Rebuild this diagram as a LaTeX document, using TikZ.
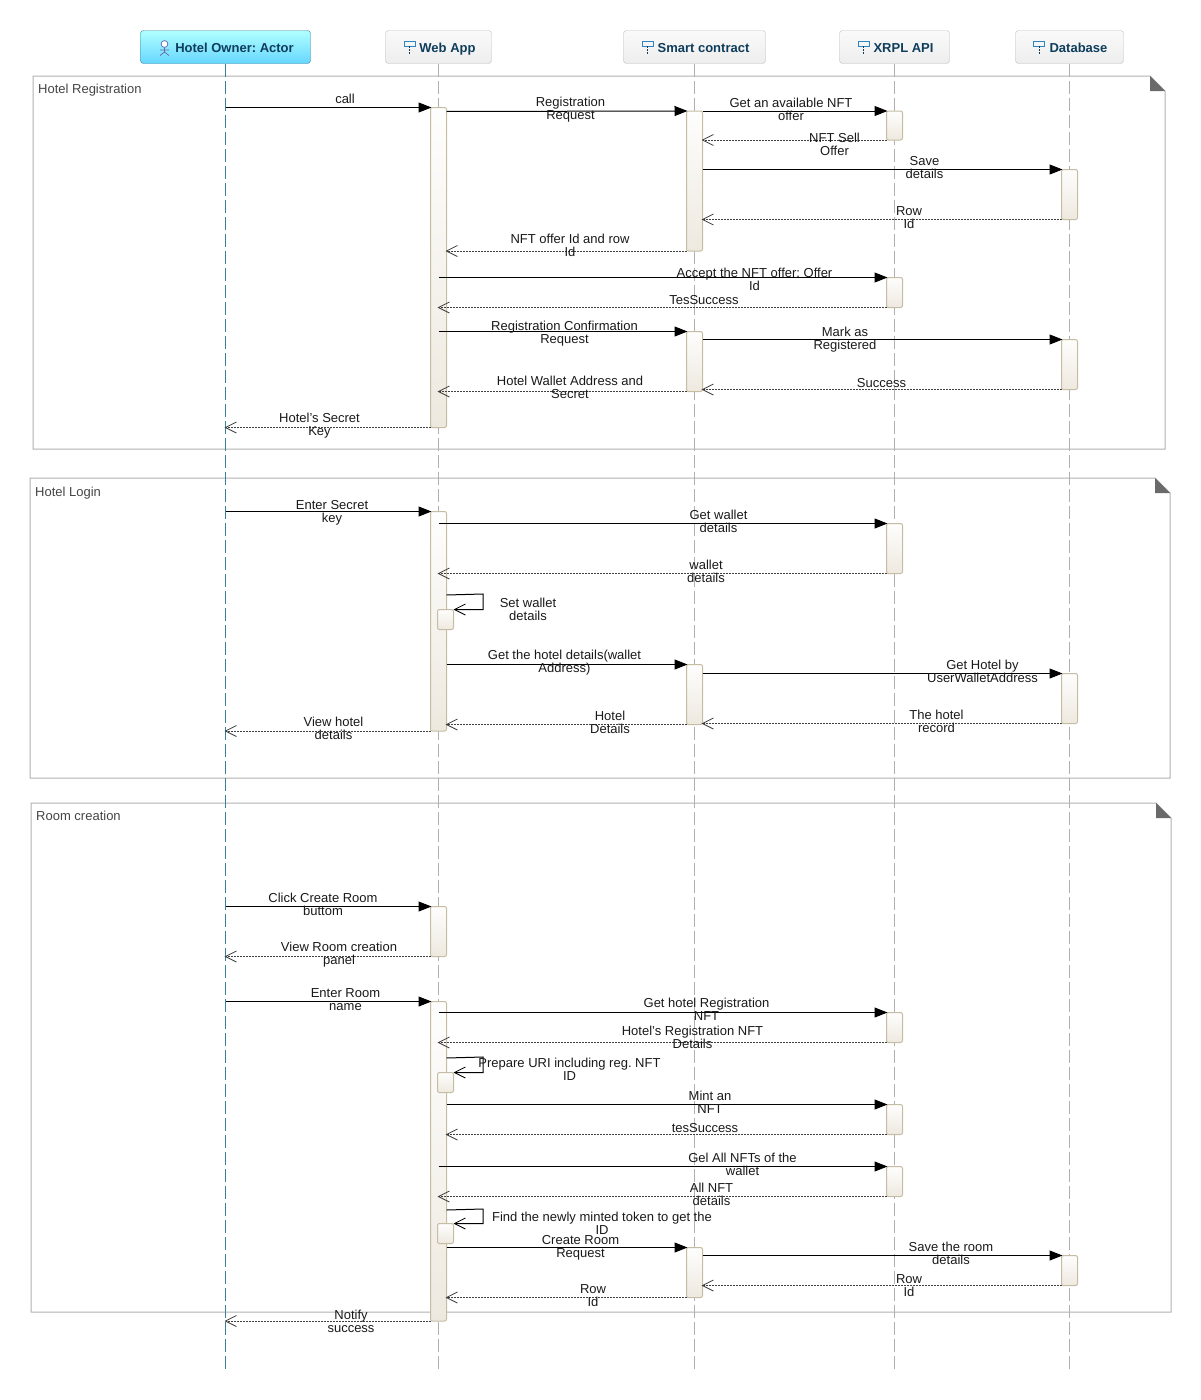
\documentclass[tikz,border=0pt]{standalone}
\usepackage{fontspec}
\setmainfont{Liberation Sans}
\frenchspacing
\usetikzlibrary{arrows.meta}
\definecolor{framegray}{HTML}{B0B0B0}
\definecolor{cornergray}{HTML}{6A6A6A}
\definecolor{titlegray}{HTML}{444444}
\definecolor{barline}{HTML}{C6BCA4}
\definecolor{headblue}{HTML}{0F3D5C}
\definecolor{iconblue}{HTML}{2E86C1}
\definecolor{ownertop}{HTML}{B0FFFF}
\definecolor{ownerbot}{HTML}{66D6FF}
\definecolor{ownerline}{HTML}{3B8196}
\definecolor{barbot}{HTML}{EEE9DF}
\definecolor{personicon}{HTML}{6468A8}
\tikzset{
  seqframe/.style={draw=framegray,line width=1pt},
  frametitle/.style={anchor=west,inner sep=0pt,text height=10pt,text depth=3pt,text=titlegray,font=\fontsize{13}{13}\selectfont},
  lifehead/.style={draw=black!25,rounded corners=3pt,top color=black!2,bottom color=black!7,minimum height=33pt,inner sep=0pt,outer sep=0pt,text height=10pt,text depth=0pt,text=headblue,font=\bfseries\fontsize{13}{13}\selectfont,execute at begin node=\hspace*{18pt}},
  ownerhead/.style={lifehead,draw=ownerline,top color=ownertop,bottom color=ownerbot},
  lifeline/.style={draw=framegray,line width=1pt,dash pattern=on 13pt off 4pt},
  actbar/.style={draw=barline,rounded corners=2pt,line width=1pt,top color=white!98!barline,bottom color=barbot,minimum width=16pt,inner sep=0pt,outer sep=0pt,anchor=north},
  callmsg/.style={draw=black,line width=1pt,shorten >=-1pt,-{Triangle[length=13pt,width=10pt]}},
  backmsg/.style={draw=black!75,line width=.9pt,dash pattern=on 2pt off 1pt,shorten >=-1pt,-{Straight Barb[length=11pt,width=11pt,line width=.8pt]}},
  selfmsg/.style={draw=black,line width=1pt,-{Straight Barb[length=11pt,width=11pt,line width=.8pt]}},
  msglabel/.style={align=center,inner sep=0pt,text=black!90,font=\fontsize{13}{13}\selectfont},
}
\begin{document}
\begin{tikzpicture}[x=1pt,y=-1pt]
\useasboundingbox (0,0) rectangle (1201,1400);
% frames
\foreach \fa/\xl/\yt/\xr/\yb in {fa/33/76/1165/449,fb/30/478/1170/778,fc/31/803/1171/1312}{
  \draw[seqframe] (\xl,\yt) -- (\xr-15,\yt) -- (\xr,\yt+15) -- (\xr,\yb) -- (\xl,\yb) -- cycle;
  \fill[cornergray] (\xr-15,\yt) -- (\xr,\yt+15) -- (\xr-15,\yt+15) -- cycle;
}
\node[frametitle] (fatitle) at (38,89.5) {Hotel Registration};
\node[frametitle] (fbtitle) at (35,492.5) {Hotel Login};
\node[frametitle] (fctitle) at (36,816.5) {Room creation};
% heads
\node[ownerhead,minimum width=170pt] (owner) at (225.5,47) {Hotel Owner: Actor};
\node[lifehead,minimum width=106pt] (webapp) at (438.5,47) {Web App};
\node[lifehead,minimum width=142pt] (smart) at (694.5,47) {Smart contract};
\node[lifehead,minimum width=110pt] (xrpl) at (894.5,47) {XRPL API};
\node[lifehead,minimum width=108pt] (dbase) at (1069.5,47) {Database};
% lifelines
\coordinate (endline) at (0,1370);
\draw[lifeline,draw=ownerline] (owner.south) -- (owner.south |- endline);
\foreach \hd in {webapp,smart,xrpl,dbase}
  \draw[lifeline] (\hd.south) -- (\hd.south |- endline);
% icons
\draw[personicon,line width=.7pt,fill=white] (164.5,44) circle (3.4pt);
\draw[personicon,line width=.7pt] (164.5,47.4) -- (164.5,52) (160,50) -- (169,50) (160,55.5) -- (164.5,52) -- (169,55.5);
\foreach \ix in {409.5,647.5,863.5,1039}{
  \draw[iconblue,line width=1pt] (\ix-5.5,41) rectangle (\ix+5.5,46);
  \draw[headblue,line width=1pt,dash pattern=on 2pt off 1pt] (\ix,46) -- (\ix,54);
}
% activation bars
\node[actbar,minimum height=320pt] (wa) at (438.5,107.5) {};
\node[actbar,minimum height=140pt] (sa) at (694.5,111) {};
\node[actbar,minimum height=29pt] (xa) at (894.5,111) {};
\node[actbar,minimum height=50pt] (da) at (1069.5,169.5) {};
\node[actbar,minimum height=30pt] (xb) at (894.5,277.5) {};
\node[actbar,minimum height=60pt] (sb) at (694.5,331.5) {};
\node[actbar,minimum height=50pt] (db) at (1069.5,339.5) {};
\node[actbar,minimum height=219.5pt] (wb) at (438.5,511.5) {};
\node[actbar,minimum height=50pt] (xc) at (894.5,523.5) {};
\node[actbar,minimum height=20pt] (wself) at (445.5,609.5) {};
\node[actbar,minimum height=60pt] (sc) at (694.5,664.5) {};
\node[actbar,minimum height=50pt] (dc) at (1069.5,673.5) {};
\node[actbar,minimum height=50pt] (wc) at (438.5,906.5) {};
\node[actbar,minimum height=319.5pt] (wd) at (438.5,1001.5) {};
\node[actbar,minimum height=30pt] (xd) at (894.5,1012.5) {};
\node[actbar,minimum height=20pt] (wselfb) at (445.5,1072.5) {};
\node[actbar,minimum height=30pt] (xe) at (894.5,1104.5) {};
\node[actbar,minimum height=30pt] (xf) at (894.5,1166.5) {};
\node[actbar,minimum height=20pt] (wselfc) at (445.5,1223.5) {};
\node[actbar,minimum height=50pt] (sd) at (694.5,1247.5) {};
\node[actbar,minimum height=30pt] (dd) at (1069.5,1255.5) {};
% hotel registration
\draw[callmsg] (owner.south |- 0,107.5) -- (wa.north west) node[msglabel,at={(345,99)}] (ma) {call};
\draw[callmsg] (wa.east |- 0,111.5) -- (sa.north west) node[msglabel,at={(570.5,110)}] (mb) {Registration\\Request};
\draw[callmsg] (sa.east |- 0,111) -- (xa.north west) node[msglabel,at={(791,109)}] (mc) {Get an available NFT\\offer};
\draw[backmsg] (xa.south west) -- (sa.east |- xa.south) node[msglabel,at={(834.5,144)}] (md) {NFT Sell\\Offer};
\draw[callmsg] (sa.east |- da.north) -- (da.north west) node[msglabel,at={(924.5,168)}] (me) {Save\\details};
\draw[backmsg] (da.south west) -- (sa.east |- da.south) node[msglabel,at={(909,218)}] (mf) {Row\\Id};
\draw[backmsg] (sa.south west) -- (wa.east |- sa.south) node[msglabel,at={(570,245)}] (mg) {NFT offer Id and row\\Id};
\draw[callmsg] (wa.north |- xb.north) -- (xb.north west) node[msglabel,at={(754.5,279)}] (mh) {Accept the NFT offer: Offer\\Id};
\draw[backmsg] (xb.south west) -- (wa.north |- xb.south) node[msglabel,at={(704,300)}] (mi) {TesSuccess};
\draw[callmsg] (wa.north |- sb.north) -- (sb.north west) node[msglabel,at={(564.5,333.5)}] (mj) {Registration Confirmation\\Request};
\draw[callmsg] (sb.east |- db.north) -- (db.north west) node[msglabel,at={(845,340)}] (mk) {Mark as\\Registered};
\draw[backmsg] (db.south west) -- (sb.east |- db.south) node[msglabel,at={(881.5,383)}] (ml) {Success};
\draw[backmsg] (sb.south west) -- (wa.north |- sb.south) node[msglabel,at={(570,387)}] (mm) {Hotel Wallet Address and\\Secret};
\draw[backmsg] (wa.south west) -- (owner.south |- wa.south) node[msglabel,at={(319.5,426)}] (mn) {Hotel's Secret\\Key};
% hotel login
\draw[callmsg] (owner.south |- wb.north) -- (wb.north west) node[msglabel,at={(332,513)}] (na) {Enter Secret\\key};
\draw[callmsg] (wb.north |- xc.north) -- (xc.north west) node[msglabel,at={(718.5,521)}] (nb) {Get wallet\\details};
\draw[backmsg] (xc.south west) -- (wb.north |- xc.south) node[msglabel,at={(706,571)}] (nc) {wallet\\details};
\draw[selfmsg] (wb.east |- 0,595) -- (483,594) -- (483,609.5) -- (wself.north east) node[msglabel,at={(528,609)}] (nd) {Set wallet\\details};
\draw[callmsg] (wb.east |- sc.north) -- (sc.north west) node[msglabel,at={(564.5,663)}] (ne) {Get the hotel details(wallet\\Address)};
\draw[callmsg] (sc.east |- dc.north) -- (dc.north west) node[msglabel,at={(982.5,671)}] (nf) {Get Hotel by\\UserWalletAddress};
\draw[backmsg] (dc.south west) -- (sc.east |- dc.south) node[msglabel,at={(936.5,721)}] (ng) {The hotel\\record};
\draw[backmsg] (sc.south west) -- (wb.east |- sc.south) node[msglabel,at={(610,722)}] (nh) {Hotel\\Details};
\draw[backmsg] (wb.south west) -- (owner.south |- wb.south) node[msglabel,at={(333.5,728)}] (ni) {View hotel\\details};
% room creation
\draw[callmsg] (owner.south |- wc.north) -- (wc.north west) node[msglabel,at={(323,904)}] (pa) {Click Create Room\\buttom};
\draw[backmsg] (wc.south west) -- (owner.south |- wc.south) node[msglabel,at={(339,955)}] (pb) {View Room creation\\panel};
\draw[callmsg] (owner.south |- wd.north) -- (wd.north west) node[msglabel,at={(345.5,1000)}] (pc) {Enter Room\\name};
\draw[callmsg] (wd.north |- xd.north) -- (xd.north west) node[msglabel,at={(706.5,1009)}] (pd) {Get hotel Registration\\NFT};
\draw[backmsg] (xd.south west) -- (wd.north |- xd.south) node[msglabel,at={(692.5,1037)}] (pe) {Hotel's Registration NFT\\Details};
\draw[selfmsg] (wd.east |- 0,1058) -- (483,1057) -- (483,1072.5) -- (wselfb.north east) node[msglabel,at={(569.5,1069)}] (pf) {Prepare URI including reg. NFT\\ID};
\draw[callmsg] (wd.east |- xe.north) -- (xe.north west) node[msglabel,at={(710,1102)}] (pg) {Mint an\\NFT};
\draw[backmsg] (xe.south west) -- (wd.east |- xe.south) node[msglabel,at={(705,1128)}] (ph) {tesSuccess};
\draw[callmsg] (wd.north |- xf.north) -- (xf.north west) node[msglabel,at={(742.5,1164)}] (pi) {Gel All NFTs of the\\wallet};
\draw[backmsg] (xf.south west) -- (wd.north |- xf.south) node[msglabel,at={(711.5,1194)}] (pj) {All NFT\\details};
\draw[selfmsg] (wd.east |- 0,1210) -- (483,1209) -- (483,1223.5) -- (wselfc.north east) node[msglabel,at={(602,1223)}] (pk) {Find the newly minted token to get the\\ID};
\draw[callmsg] (wd.east |- sd.north) -- (sd.north west) node[msglabel,at={(580.5,1248)}] (pl) {Create Room\\Request};
\draw[callmsg] (sd.east |- dd.north) -- (dd.north west) node[msglabel,at={(951,1253)}] (pm) {Save the room\\details};
\draw[backmsg] (dd.south west) -- (sd.east |- dd.south) node[msglabel,at={(909,1286)}] (pn) {Row\\Id};
\draw[backmsg] (sd.south west) -- (wd.east |- sd.south) node[msglabel,at={(593,1296)}] (po) {Row\\Id};
\draw[backmsg] (wd.south west) -- (owner.south |- wd.south) node[msglabel,at={(351,1321)}] (pp) {Notify\\success};
\end{tikzpicture}
\end{document}
